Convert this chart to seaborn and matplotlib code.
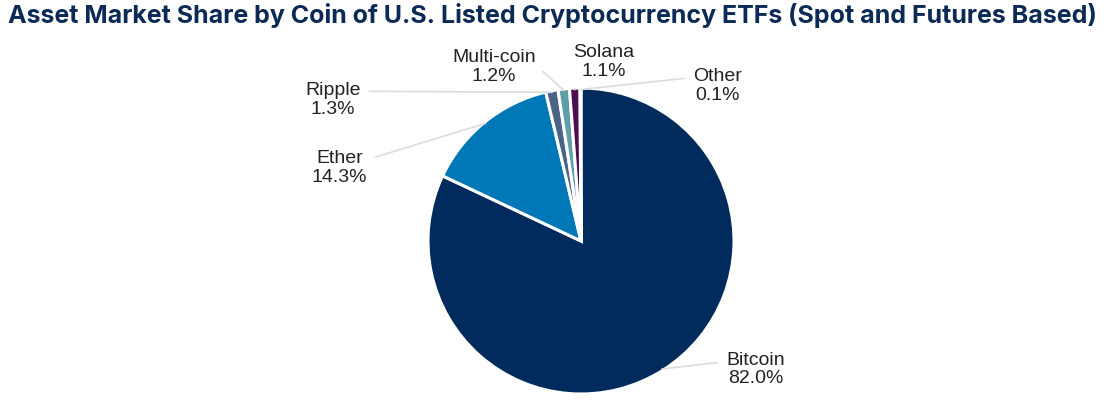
import numpy as np
import matplotlib.pyplot as plt
import seaborn as sns

sns.set_theme(style="white")
plt.rcParams['font.family'] = ['Liberation Sans', 'DejaVu Sans']

# Data
coins = ['Bitcoin', 'Ether', 'Ripple', 'Multi-coin', 'Solana', 'Other']
shares = [82.0, 14.3, 1.3, 1.2, 1.1, 0.1]
colors = ['#002b5c', '#0077b6', '#4a6488', '#5f9ea6', '#4e0d50', '#9aa8b8']

# label positions (data units, pie radius = 1) and where the leader line leaves the text
label_pos = {
    'Bitcoin': (1.14, -0.84),
    'Ether': (-1.58, 0.48),
    'Ripple': (-1.62, 0.92),
    'Multi-coin': (-0.57, 1.14),
    'Solana': (0.15, 1.17),
    'Other': (0.89, 1.01),
}
line_from = {
    'Bitcoin': (0.0, 0.72),
    'Ether': (1.0, 0.72),
    'Ripple': (1.0, 0.75),
    'Multi-coin': (1.0, 0.55),
    'Solana': (0.0, 0.3),
    'Other': (0.0, 0.75),
}

fig = plt.figure(figsize=(11.08, 4.15), dpi=100)
ax = fig.add_axes([0, 0, 1, 1])

wedges, _ = ax.pie(shares, colors=colors, startangle=90, counterclock=False,
                   radius=1.0, wedgeprops=dict(edgecolor='white', linewidth=2.2))

for w, name, val in zip(wedges, coins, shares):
    mid = np.deg2rad((w.theta1 + w.theta2) / 2)
    xy = (0.99 * np.cos(mid), 0.99 * np.sin(mid))
    ax.annotate(f"{name}\n{val:.1f}%", xy=xy, xytext=label_pos[name],
                ha='center', va='center', fontsize=14, color='#222222',
                linespacing=1.15,
                arrowprops=dict(arrowstyle='-', color='#dcdcdc', lw=1.2,
                                shrinkA=4, shrinkB=0, relpos=line_from[name]))

ax.set_xlim(-581 / 153, (1108 - 581) / 153)
ax.set_ylim(-(415 - 241) / 153, 241 / 153)
ax.set_aspect('equal')
ax.axis('off')

fig.text(0.007, 0.962, "Asset Market Share by Coin of U.S. Listed Cryptocurrency ETFs (Spot and Futures Based)",
         ha='left', va='center', fontsize=18, fontweight='bold', color='#0b2a55',
         family=['Inter', 'DejaVu Sans'])

fig.savefig('out.png', dpi=100)
